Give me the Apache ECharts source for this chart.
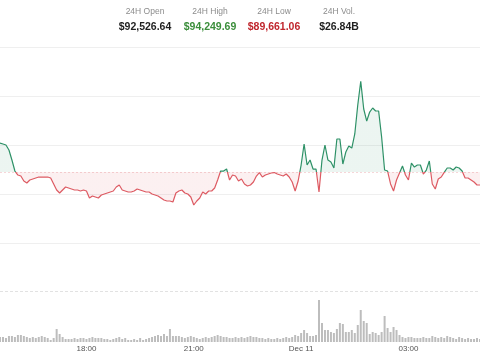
<!DOCTYPE html>
<html>
<head>
<meta charset="utf-8">
<script src="https://cdn.jsdelivr.net/npm/echarts@6/dist/echarts.min.js"></script>
<style>
    html, body { margin: 0; padding: 0; background: #fff; }
    #chart { width: 480px; height: 355px; }
</style>
</head>
<body>
<div id="chart"></div>
<script>
var openPrice = 92526.64;
var statLabels = ['24H Open', '24H High', '24H Low', '24H Vol.'];
var statValues = ['$92,526.64', '$94,249.69', '$89,661.06', '$26.84B'];
var tickLabels = {'18:00': '18:00', '21:00': '21:00', '00:00': 'Dec 11', '03:00': '03:00'};
var startTime = '15:35'; // first 5-minute candle on screen

// close price per 5 minutes
var prices = [
    93078, 93059, 93040, 92945, 92755, 92546, 92470, 92451, 92357, 92319,
    92376, 92395, 92414, 92432, 92432, 92432, 92432, 92414, 92300, 92186,
    92129, 92186, 92243, 92224, 92205, 92186, 92186, 92167, 92186, 92167,
    92034, 92072, 92053, 92034, 92091, 92110, 92129, 92148, 92167, 92243,
    92281, 92186, 92167, 92148, 92148, 92167, 92205, 92186, 92167, 92148,
    92148, 92110, 92091, 92072, 92034, 91996, 91977, 91977, 91958, 92129,
    92167, 92186, 92129, 92110, 92053, 91901, 91977, 92034, 92148, 92110,
    92167, 92167, 92224, 92376, 92546, 92546, 92584, 92376, 92470, 92451,
    92357, 92395, 92300, 92262, 92281, 92338, 92451, 92517, 92432, 92470,
    92489, 92508, 92517, 92489, 92470, 92451, 92489, 92432, 92338, 92167,
    92357, 92660, 93059, 92660, 92755, 92584, 92584, 92148, 92755, 93040,
    92755, 92717, 92603, 93154, 93154, 92679, 92907, 93021, 92983, 93249,
    93799, 94250, 93723, 93495, 93666, 93742, 93685, 93685, 93192, 92565,
    92546, 92300, 92167, 92376, 92508, 92641, 92470, 92376, 92698, 92622,
    92660, 92660, 92489, 92565, 92736, 92300, 92205, 92395, 92432, 92520,
    92603, 92603, 92565, 92622, 92603, 92546, 92414, 92414, 92376, 92338,
    92281, 92281
];

// volume per 5 minutes, millions USD
var volumes = [
    75, 75, 60, 90, 90, 75, 105, 105, 90, 75,
    60, 75, 60, 75, 90, 75, 60, 30, 60, 195,
    120, 75, 45, 45, 45, 60, 45, 60, 60, 45,
    60, 75, 60, 60, 60, 45, 45, 30, 45, 60,
    75, 45, 60, 30, 30, 45, 30, 60, 30, 45,
    60, 75, 90, 105, 90, 120, 90, 195, 90, 90,
    90, 75, 60, 75, 90, 75, 60, 45, 60, 75,
    60, 75, 90, 105, 90, 75, 75, 60, 60, 75,
    60, 75, 60, 75, 90, 75, 75, 60, 60, 45,
    60, 45, 45, 60, 45, 60, 75, 60, 75, 105,
    90, 135, 180, 135, 90, 90, 105, 630, 285, 180,
    180, 150, 135, 195, 285, 270, 150, 150, 180, 135,
    255, 480, 315, 285, 120, 150, 135, 105, 150, 390,
    210, 150, 225, 180, 105, 75, 60, 75, 75, 60,
    60, 60, 75, 60, 60, 90, 75, 60, 75, 60,
    90, 75, 60, 45, 75, 60, 45, 60, 45, 45,
    60, 45
];

var times = [];
(function () {
    var p = startTime.split(':');
    var t = parseInt(p[0], 10) * 60 + parseInt(p[1], 10);
    for (var i = 0; i < prices.length; i++) {
        var m = (t + i * 5) % 1440;
        var hh = Math.floor(m / 60), mm = m % 60;
        times.push((hh < 10 ? '0' : '') + hh + ':' + (mm < 10 ? '0' : '') + mm);
    }
})();

var GREEN = '#2e9167';
var RED = '#dd5a62';
var statColors = ['#1f1f1f', '#3b8e3b', '#c0262d', '#1f1f1f'];
var statX = [145, 210, 274, 339];

var header = [];
statLabels.forEach(function (label, i) {
    header.push({
        type: 'text', x: statX[i], y: 12, silent: true,
        style: {text: label, x: 0, y: 0, align: 'center', verticalAlign: 'middle',
            fill: '#8c8c8c', font: '8.5px "Liberation Sans"'}
    });
    header.push({
        type: 'text', x: statX[i], y: 27, silent: true,
        style: {text: statValues[i], x: 0, y: 0, align: 'center', verticalAlign: 'middle',
            fill: statColors[i], font: 'bold 10.5px "Liberation Sans"'}
    });
});

var chart = echarts.init(document.getElementById('chart'));
chart.setOption({
    animation: false,
    graphic: header,
    grid: [
        {left: 0, right: 0, top: 47, height: 196},
        {left: 0, right: 0, top: 291, height: 51}
    ],
    xAxis: [
        {type: 'category', gridIndex: 0, data: times, boundaryGap: false, show: false},
        {
            type: 'category', gridIndex: 1, data: times, boundaryGap: false,
            axisLine: {show: false},
            axisTick: {show: false},
            axisLabel: {
                interval: function (idx, val) { return tickLabels[val] !== undefined; },
                formatter: function (val) { return tickLabels[val]; },
                fontSize: 8, color: '#555', margin: 3, fontFamily: 'Liberation Sans'
            }
        }
    ],
    yAxis: [
        {type: 'value', gridIndex: 0, min: 91180, max: 94900, show: false},
        {
            type: 'value', gridIndex: 0, min: 0, max: 4, interval: 1,
            axisLabel: {show: false}, axisLine: {show: false}, axisTick: {show: false},
            splitLine: {lineStyle: {color: '#efefef', width: 1}}
        },
        {type: 'value', gridIndex: 1, min: 0, max: 765, show: false}
    ],
    visualMap: {
        type: 'piecewise', show: false, seriesIndex: 0,
        pieces: [
            {gt: 80000, lte: openPrice, color: RED},
            {gt: openPrice, lte: 100000, color: GREEN}
        ]
    },
    series: [
        {
            type: 'line', xAxisIndex: 0, yAxisIndex: 0, data: prices,
            symbol: 'none', lineStyle: {width: 1.2},
            areaStyle: {origin: openPrice, opacity: 0.09},
            markLine: {
                silent: true, symbol: ['none', 'none'], label: {show: false},
                lineStyle: {color: 'rgba(221,90,98,0.25)', type: [2, 2], width: 1},
                data: [{yAxis: openPrice}]
            }
        },
        {
            type: 'bar', xAxisIndex: 1, yAxisIndex: 2, data: volumes,
            barWidth: 2, itemStyle: {color: '#bdbdbd'},
            markLine: {
                silent: true, symbol: ['none', 'none'], label: {show: false},
                lineStyle: {color: '#e2e2e2', type: [3, 2], width: 1},
                data: [{yAxis: 765}]
            }
        }
    ]
});
</script>
</body>
</html>
